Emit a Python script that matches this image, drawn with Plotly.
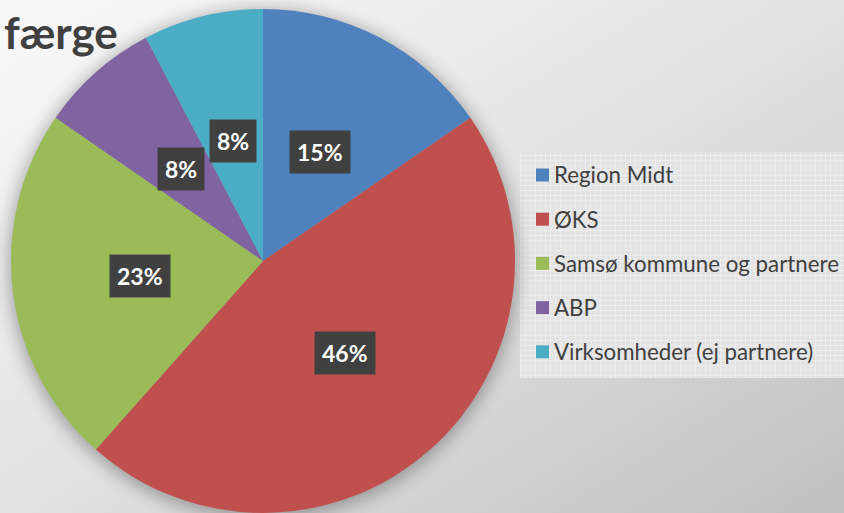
import base64, math
import plotly.graph_objects as go

categories = ["Region Midt", "ØKS", "Samsø kommune og partnere", "ABP", "Virksomheder (ej partnere)"]
values = [2, 6, 3, 1, 1]
colors = ["#4F81BD", "#C0504D", "#9BBB59", "#8064A2", "#4BACC6"]
title_text = "færge"

W, H = 844, 513
# pie domain (paper fractions)
dom_x = [10 / W, 516 / W]
dom_y = [0.0, 504 / H]
cx = (dom_x[0] + dom_x[1]) / 2 * W
cy_from_bottom = (dom_y[0] + dom_y[1]) / 2 * H
R = min((dom_x[1] - dom_x[0]) * W, (dom_y[1] - dom_y[0]) * H) / 2
cy = H - cy_from_bottom

# legend panel
lg_x0, lg_y0, lg_x1, lg_y1 = 520, 152, 844, 378

svg = f'''<svg xmlns="http://www.w3.org/2000/svg" width="{W}" height="{H}" viewBox="0 0 {W} {H}">
<defs>
<linearGradient id="bg" x1="0" y1="0" x2="1" y2="1">
<stop offset="0" stop-color="#f9f9f9"/>
<stop offset="0.5" stop-color="#e2e2e2"/>
<stop offset="1" stop-color="#c0c0c0"/>
</linearGradient>
<pattern id="grid" width="5" height="5" patternUnits="userSpaceOnUse">
<rect width="5" height="5" fill="#e3e3e3"/>
<path d="M0 0.5H5M0.5 0V5" stroke="#ececec" stroke-width="1"/>
</pattern>
<filter id="blur" x="-20%" y="-20%" width="140%" height="140%"><feGaussianBlur stdDeviation="9"/></filter>
</defs>
<rect width="{W}" height="{H}" fill="url(#bg)"/>
<rect x="{lg_x0}" y="{lg_y0}" width="{lg_x1-lg_x0}" height="{lg_y1-lg_y0}" fill="url(#grid)"/>
<circle cx="{cx:.1f}" cy="{cy+3:.1f}" r="{R+2:.1f}" fill="#000" opacity="0.32" filter="url(#blur)"/>
</svg>'''
src = "data:image/svg+xml;base64," + base64.b64encode(svg.encode()).decode()

fig = go.Figure()
fig.add_trace(go.Pie(
    labels=categories, values=values, sort=False, direction="clockwise", rotation=0,
    marker=dict(colors=colors, line=dict(width=0)),
    textinfo="none", hoverinfo="label+percent",
    domain=dict(x=dom_x, y=dom_y), showlegend=False,
))

annotations = []
total = sum(values)
acc = 0
for v in values:
    mid = (acc + v / 2) / total * 2 * math.pi
    acc += v
    r = 0.49 * R
    px = cx + r * math.sin(mid)
    py = cy_from_bottom + r * math.cos(mid)
    pct = round(v / total * 100)
    annotations.append(dict(
        x=px / W, y=py / H, xref="paper", yref="paper", showarrow=False,
        text=f"<b>{pct}%</b>", font=dict(family="Lato", size=23, color="white"),
        bgcolor="#404040", borderpad=7, xanchor="center", yanchor="middle",
    ))

# manual legend
shapes = []
leg_top = 175
leg_gap = 44.2
for i, (c, col) in enumerate(zip(categories, colors)):
    yc = leg_top + i * leg_gap
    shapes.append(dict(type="rect", xref="paper", yref="paper",
                       x0=536 / W, x1=549 / W, y0=1 - (yc + 6.5) / H, y1=1 - (yc - 6.5) / H,
                       fillcolor=col, line=dict(width=0)))
    annotations.append(dict(x=552 / W, y=1 - yc / H, xref="paper", yref="paper", showarrow=False,
                            text=c, xanchor="left", yanchor="middle",
                            font=dict(family="Lato", size=22.3, color="#404040")))

annotations.append(dict(x=2 / W, y=1 - 32 / H, xref="paper", yref="paper", showarrow=False,
                        text=f"<b>{title_text}</b>", xanchor="left", yanchor="middle",
                        font=dict(family="Lato", size=44, color="#404040")))

fig.update_layout(
    width=W, height=H, margin=dict(l=0, r=0, t=0, b=0),
    paper_bgcolor="#e0e0e0", plot_bgcolor="rgba(0,0,0,0)",
    images=[dict(source=src, xref="paper", yref="paper", x=0, y=1, sizex=1, sizey=1,
                 sizing="stretch", xanchor="left", yanchor="top", layer="below")],
    annotations=annotations, shapes=shapes, showlegend=False,
)
fig.write_html("out.html", config={"displayModeBar": False},
               post_script="document.body.style.margin='0';")
